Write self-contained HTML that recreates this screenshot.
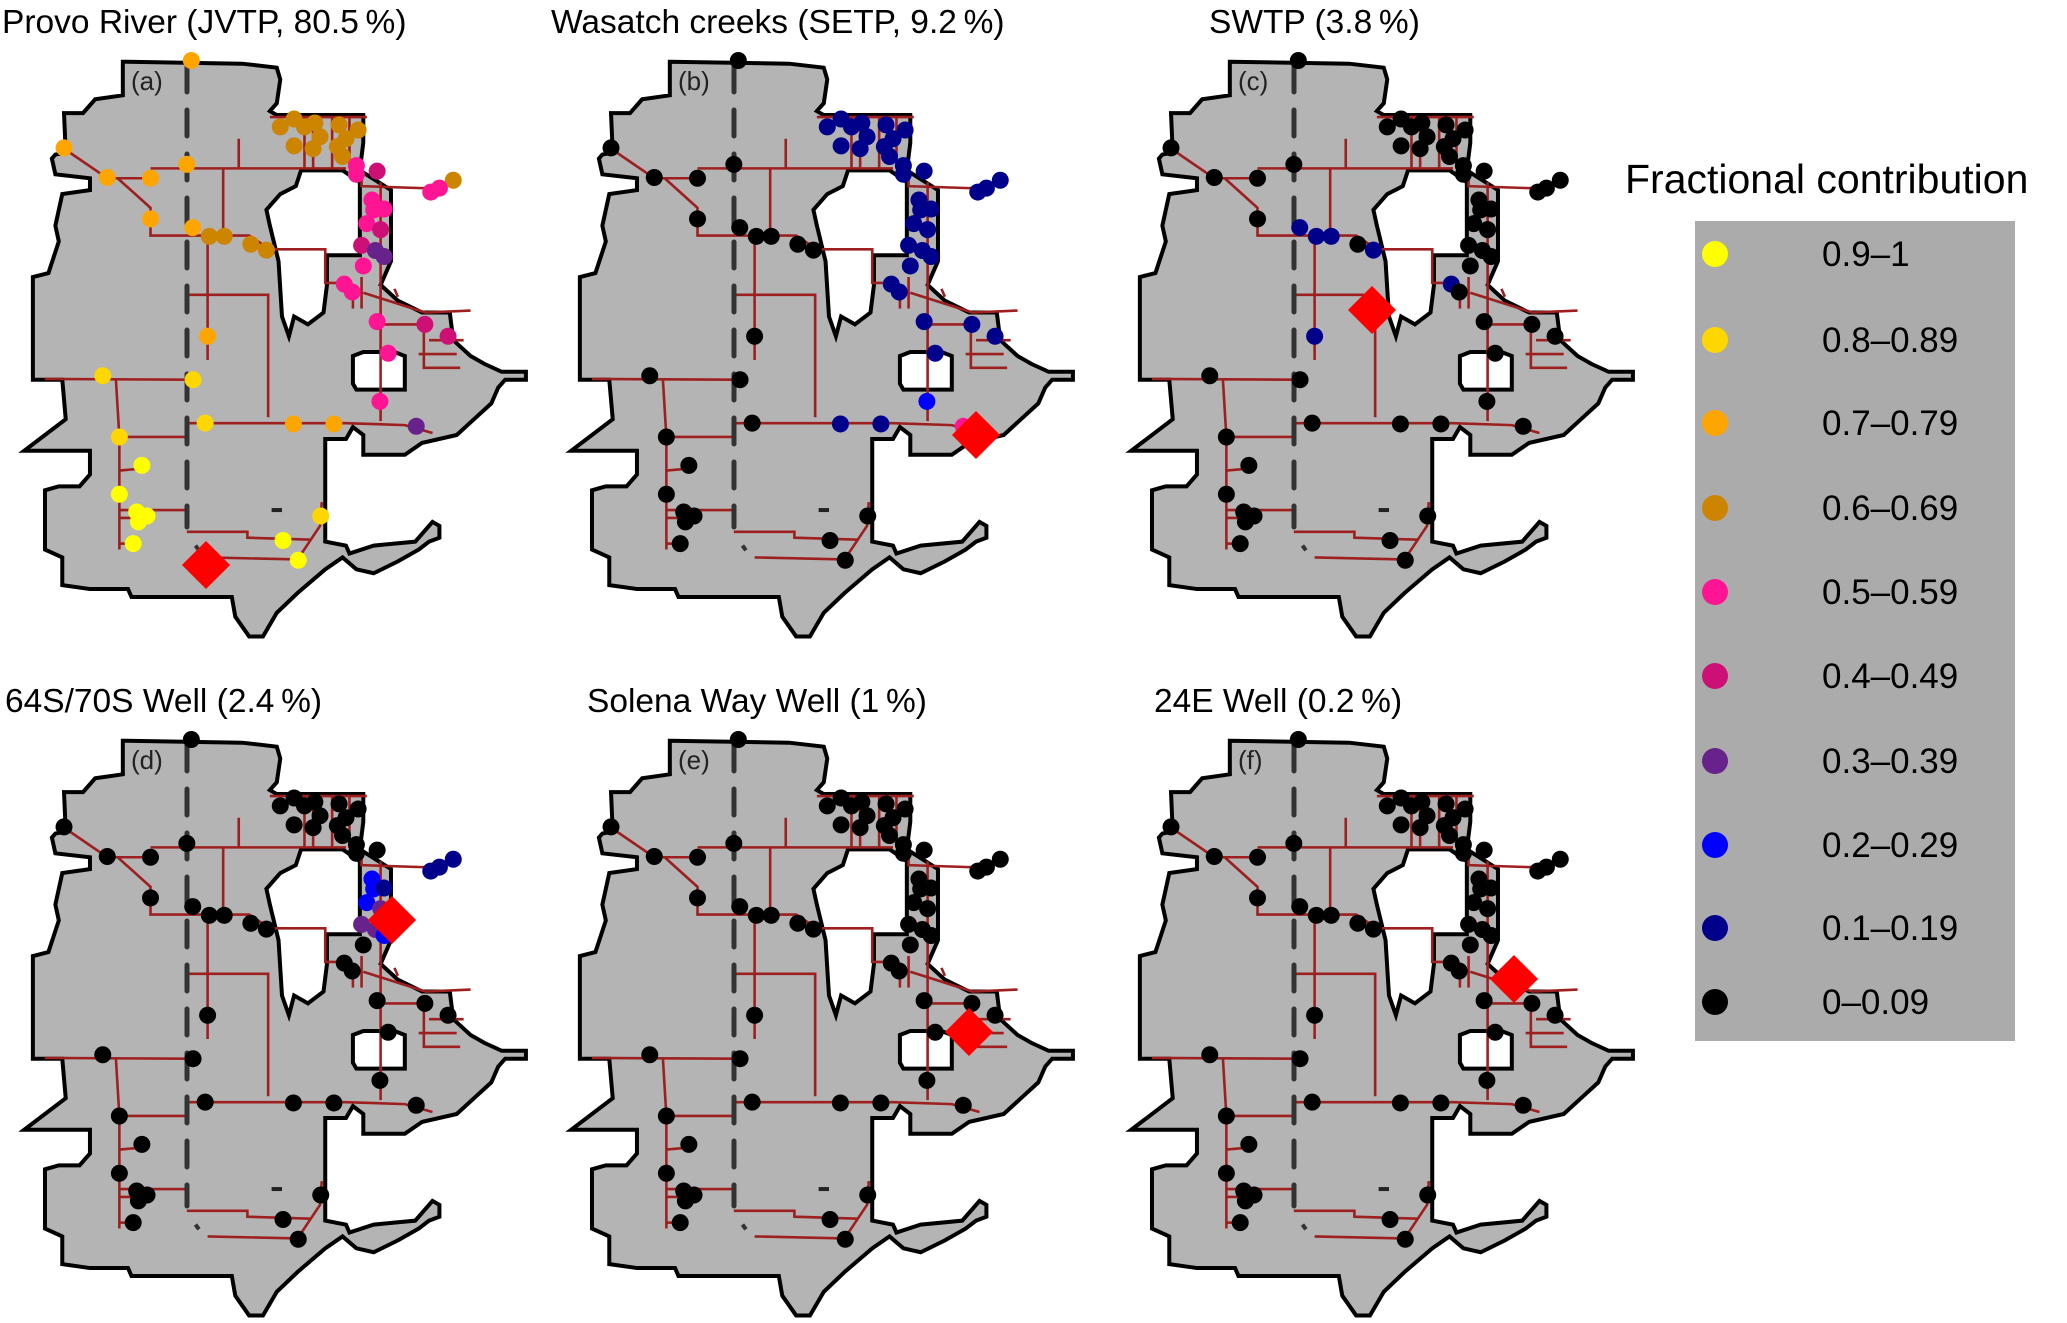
<!DOCTYPE html>
<html><head><meta charset="utf-8"><style>
html,body{margin:0;padding:0;background:#fff;}
svg{display:block;font-family:"Liberation Sans",Arial,sans-serif;}
</style></head><body>
<svg id="fig" width="2067" height="1323" viewBox="0 0 2067 1323" xmlns="http://www.w3.org/2000/svg">
<defs>
<g id="mapbase">
<path fill="#b4b4b4" stroke="#000" stroke-width="4" vector-effect="non-scaling-stroke" fill-rule="evenodd" d="M355,55 L700,60 800,70 810,100 800,160 780,180 800,190 1050,190 1050,260 1040,330 1130,380 1130,560 1100,620 1150,660 1220,690 1300,690 1310,760 1360,800 1400,820 1450,840 1520,840 1520,860 1460,860 1440,880 1420,920 1370,960 1320,1000 1220,1020 1170,1050 1050,1050 1050,1000 1020,980 1000,1010 940,1010 940,1270 1000,1280 1010,1300 1080,1280 1200,1270 1250,1220 1270,1230 1270,1260 1240,1270 1210,1290 1150,1320 1080,1350 1030,1340 990,1310 940,1340 860,1400 800,1450 760,1510 720,1510 680,1460 670,1410 380,1410 370,1390 260,1390 180,1380 180,1310 130,1290 130,1140 170,1130 230,1130 260,1100 260,1040 70,1040 190,960 180,860 95,860 95,600 140,590 170,510 160,470 180,390 260,380 260,350 160,340 150,300 160,290 190,285 185,185 240,185 275,150 355,140 Z M870,330 L990,330 1040,360 1040,545 945,545 945,620 935,690 890,720 850,700 835,750 815,700 805,560 780,470 770,430 810,390 855,370 Z M1020,800 L1050,790 1140,790 1170,800 1170,885 1030,885 1020,870 Z"/>
<g fill="none" stroke="#9e1f1f" stroke-width="2.6">
<polyline vector-effect="non-scaling-stroke" points="185,275 310,350 435,350"/>
<polyline vector-effect="non-scaling-stroke" points="340,350 435,425 435,495 720,495 780,530 940,530 940,615 980,615"/>
<polyline vector-effect="non-scaling-stroke" points="435,325 1000,325"/>
<polyline vector-effect="non-scaling-stroke" points="690,250 690,325"/>
<polyline vector-effect="non-scaling-stroke" points="645,325 645,495"/>
<polyline vector-effect="non-scaling-stroke" points="600,495 600,810"/>
<polyline vector-effect="non-scaling-stroke" points="540,645 775,645 775,955"/>
<polyline vector-effect="non-scaling-stroke" points="130,858 540,860"/>
<polyline vector-effect="non-scaling-stroke" points="335,860 345,1005 540,1005"/>
<polyline vector-effect="non-scaling-stroke" points="345,1005 345,1290"/>
<polyline vector-effect="non-scaling-stroke" points="345,1090 410,1085"/>
<polyline vector-effect="non-scaling-stroke" points="345,1190 540,1190"/>
<polyline vector-effect="non-scaling-stroke" points="345,1210 400,1210"/>
<polyline vector-effect="non-scaling-stroke" points="345,1275 385,1275"/>
<polyline vector-effect="non-scaling-stroke" points="540,970 1000,970 1170,975 1250,995"/>
<polyline vector-effect="non-scaling-stroke" points="540,1245 715,1245 715,1260 900,1265"/>
<polyline vector-effect="non-scaling-stroke" points="600,1310 860,1315 925,1230 930,1170"/>
<polyline vector-effect="non-scaling-stroke" points="780,195 1060,195"/>
<polyline vector-effect="non-scaling-stroke" points="880,195 880,325"/>
<polyline vector-effect="non-scaling-stroke" points="905,195 905,325"/>
<polyline vector-effect="non-scaling-stroke" points="960,195 960,325"/>
<polyline vector-effect="non-scaling-stroke" points="1010,195 1010,325"/>
<polyline vector-effect="non-scaling-stroke" points="1045,330 1045,370 1220,375 1290,370"/>
<polyline vector-effect="non-scaling-stroke" points="1100,360 1100,965"/>
<polyline vector-effect="non-scaling-stroke" points="1045,600 1045,680"/>
<polyline vector-effect="non-scaling-stroke" points="1020,630 1020,680"/>
<polyline vector-effect="non-scaling-stroke" points="1050,640 1230,690 1360,685"/>
<polyline vector-effect="non-scaling-stroke" points="1100,720 1230,720"/>
<polyline vector-effect="non-scaling-stroke" points="1225,700 1225,830 1330,830"/>
<polyline vector-effect="non-scaling-stroke" points="1210,795 1320,795"/>
<polyline vector-effect="non-scaling-stroke" points="1240,760 1340,760"/>
<polyline vector-effect="non-scaling-stroke" points="1140,630 1150,650"/>
</g>
<path d="M785,1190 L815,1190" stroke="#222" stroke-width="4" vector-effect="non-scaling-stroke"/>
<path d="M565,1280 L575,1292" stroke="#333" stroke-width="4" vector-effect="non-scaling-stroke"/>
</g>
</defs>
<g id="panels"></g>
<g id="legend">
<text x="1625" y="193" font-size="41" fill="#000">Fractional contribution</text>
<rect x="1695" y="221" width="320" height="820" fill="#ababab"/>
</g>
</svg>
<script>
var ns='http://www.w3.org/2000/svg';
var siteX=[553,185,310,435,540,435,557,600,848,965,810,850,880,910,925,850,905,980,1035,1000,975,990,1310,605,648,725,770,297,558,345,593,927,410,345,395,425,400,385,818,862,1030,1030,1245,1270,1075,1080,1110,1060,1050,995,1018,1090,1122,1098,1090,1100,1045,1228,1295,1085,1110,1203];
var siteY=[52,273,348,350,315,453,475,750,972,972,220,200,220,210,245,268,275,215,228,250,270,295,355,497,497,517,532,850,860,1005,970,1205,1077,1150,1195,1205,1220,1275,1267,1317,318,340,385,375,405,430,428,465,572,618,638,713,793,915,332,480,520,720,750,533,548,978];
var classA="77777777776666666666666666688888999999995555555555555544444333";
var classB="00000000111111111111111000000000000000001111111111111211111115";
var classC="00000011000000000000000110100000000000000000000001000000000000";
var classD="00000000000000000000001000000000000000000011221200000003300320";
var classE="00000000000000000000000000000000000000000000000000000000000000";
var classF="00000000000000000000000000000000000000000000000000000000000000";
var classes=[classA,classB,classC,classD,classE,classF];
var colors=['#000000','#00008b','#0000ff','#68228b','#cd1076','#ff1493','#cd8500','#ffa500','#ffd700','#ffff00'];
var legendLabels=['0.9\u20131','0.8\u20130.89','0.7\u20130.79','0.6\u20130.69','0.5\u20130.59','0.4\u20130.49','0.3\u20130.39','0.2\u20130.29','0.1\u20130.19','0\u20130.09'];
var legendColors=['#ffff00','#ffd700','#ffa500','#cd8500','#ff1493','#cd1076','#68228b','#0000ff','#00008b','#000000'];
var legendY=[254,340,423,508,592,676,761,845,928,1002];
var titles=['Provo River (JVTP, 80.5\u2009%)','Wasatch creeks (SETP, 9.2\u2009%)','SWTP (3.8\u2009%)','64S/70S Well (2.4\u2009%)','Solena Way Well (1\u2009%)','24E Well (0.2\u2009%)'];
var titleX=[2,551,1209,5,587,1154];
var panelLabels=['(a)','(b)','(c)','(d)','(e)','(f)'];
var diamondX=[206,429,265,392,422,407];
var diamondY=[565,435,310,241,353,300];
var colOff=[0,547,1107,0,547,1107];
var rowOff=[0,0,0,679,679,679];
var sx=0.346, sy=0.395;
var panels=document.getElementById('panels');
for(var p=0;p<6;p++){
  var dx=colOff[p], dy=rowOff[p];
  var g=document.createElementNS(ns,'g');
  
  
  panels.appendChild(g);
  var t=document.createElementNS(ns,'text');
  t.setAttribute('x',titleX[p]); t.setAttribute('y',dy+33); t.setAttribute('font-size','33.5');
  t.textContent=titles[p];
  
  
  g.appendChild(t);
  var u=document.createElementNS(ns,'use');
  u.setAttribute('href','#mapbase');
  u.setAttribute('transform','translate('+dx+','+(40+dy)+') scale('+sx+','+sy+')');
  
  
  g.appendChild(u);
  var dl=document.createElementNS(ns,'line');
  dl.setAttribute('x1',dx+187); dl.setAttribute('x2',dx+187);
  dl.setAttribute('y1',dy+66); dl.setAttribute('y2',dy+527);
  dl.setAttribute('stroke','#333'); dl.setAttribute('stroke-width','5');
  dl.setAttribute('stroke-dasharray','26 18'); dl.setAttribute('stroke-linecap','round');
  
  
  g.appendChild(dl);
  var lb=document.createElementNS(ns,'text');
  lb.setAttribute('x',dx+131); lb.setAttribute('y',dy+90); lb.setAttribute('font-size','26'); lb.setAttribute('fill','#222');
  lb.textContent=panelLabels[p];
  
  
  g.appendChild(lb);
  var cls=classes[p];
  for(var i=0;i<siteX.length;i++){
    var c=document.createElementNS(ns,'circle');
    c.setAttribute('cx',dx+siteX[i]*sx); c.setAttribute('cy',dy+40+siteY[i]*sy);
    c.setAttribute('r','8.5');
    c.setAttribute('fill',colors[+(cls.charAt(i)||'0')]);
    
    
    g.appendChild(c);
  }
  var d=document.createElementNS(ns,'rect');
  d.setAttribute('x',diamondX[p]+dx-17); d.setAttribute('y',diamondY[p]+dy-17);
  d.setAttribute('width','34'); d.setAttribute('height','34'); d.setAttribute('fill','#ff0000');
  d.setAttribute('transform','rotate(45 '+(diamondX[p]+dx)+' '+(diamondY[p]+dy)+')');
  
  
  g.appendChild(d);
}
var lg=document.getElementById('legend');
for(var k=0;k<legendLabels.length;k++){
  var lc=document.createElementNS(ns,'circle');
  lc.setAttribute('cx',1715); lc.setAttribute('cy',legendY[k]); lc.setAttribute('r',13);
  lc.setAttribute('fill',legendColors[k]);
  
  
  lg.appendChild(lc);
  var lt=document.createElementNS(ns,'text');
  lt.setAttribute('x',1822); lt.setAttribute('y',legendY[k]+12); lt.setAttribute('font-size','35');
  lt.textContent=legendLabels[k];
  
  
  lg.appendChild(lt);
}
</script>
</body></html>
